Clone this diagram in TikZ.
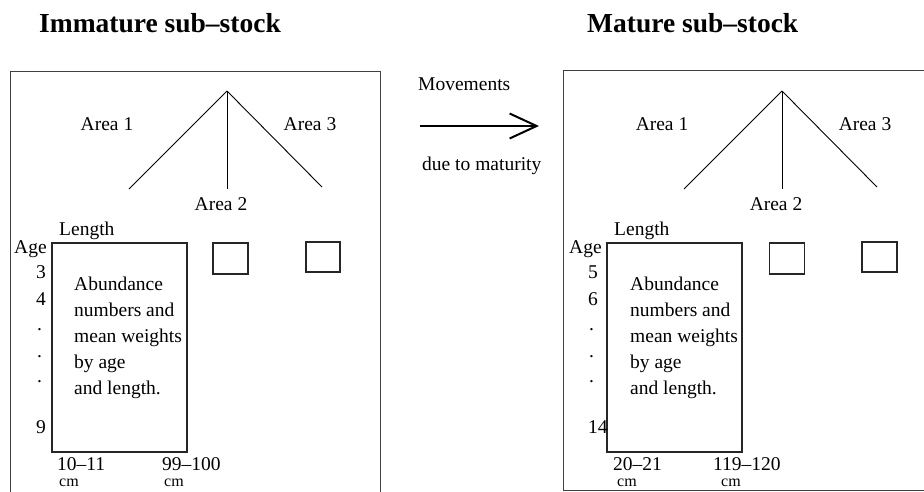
\documentclass[tikz,border=0pt]{standalone}
\usepackage{fontspec}
\setmainfont{Liberation Serif}
\usetikzlibrary{arrows.meta}

\begin{document}
\begin{tikzpicture}[
  x=1pt, y=-1pt,
  font=\fontsize{19.5}{26}\selectfont,
  title/.style={font=\fontsize{27.5}{30}\selectfont\bfseries, anchor=base west, inner sep=0pt},
  lbl/.style={anchor=base west, inner sep=0pt},
  area/.style={anchor=base, inner sep=0pt},
  lenrange/.style={anchor=base west, inner sep=0pt, text depth=0pt},
  unit/.style={anchor=base west, inner sep=0pt, text height=8pt, font=\fontsize{16}{18}\selectfont},
  frame/.style={draw=black!75, line width=1.3pt, anchor=north west, inner sep=0pt},
  cell/.style={draw=black!85, line width=1.4pt, inner sep=0pt},
  branch/.style={line width=0.9pt},
  move/.style={-{Straight Barb[length=27pt, width=25pt]}, line width=2pt}
]
  \clip (0,0) rectangle (924,491);

  % titles
  \node[title] (immtitle) at (39,32) {Immature sub--stock};
  \node[title] (mattitle) at (587,32) {Mature sub--stock};

  % immature sub-stock
  \node[frame, minimum width=370.5, minimum height=440] (immframe) at (9.5,71) {};
  \coordinate (immtop) at (227,91);
  \coordinate (imma) at (129,189);
  \coordinate (immb) at (227,189);
  \coordinate (immc) at (322,187);
  \draw[branch] (immtop) -- (imma);
  \draw[branch] (immtop) -- (immb);
  \draw[branch] (immtop) -- (immc);
  \node[area] (immarea1) at (107,130) {Area 1};
  \node[area] (immarea2) at (221,210) {Area 2};
  \node[area] (immarea3) at (310,130) {Area 3};

  \node[cell, minimum width=135, minimum height=209] (immgrid) at (119.5,347.5) {};
  \node[cell, minimum width=35, minimum height=31] (immsq2) at (230.5,258.5) {};
  \node[cell, minimum width=34, minimum height=30] (immsq3) at (323,257) {};
  \node[lbl] (immlen) at (59,235) {Length};
  \node[lbl] (immage) at (14,253) {Age};
  \node[lbl] (immage1) at (36,278) {3};
  \node[lbl] (immage2) at (36,305) {4};
  \node[lbl] (immdot1) at (37,330) {.};
  \node[lbl] (immdot2) at (37,357) {.};
  \node[lbl] (immdot3) at (37,382) {.};
  \node[lbl] (immagen) at (36,433) {9};
  \node[anchor=north west, inner sep=0pt, align=left] (immtext) at (74,277)
    {Abundance\\numbers and\\mean weights\\by age\\and length.};
  \node[lenrange] (immlo) at (57,470) {10--11};
  \node[unit] (immlocm) at (59,486) {cm};
  \node[lenrange] (immhi) at (162,470) {99--100};
  \node[unit] (immhicm) at (164,486) {cm};

  % movement between the sub-stocks
  \coordinate (movefrom) at (420,126);
  \coordinate (moveto) at (539,126);
  \draw[move] (movefrom) -- (moveto);
  \node[lbl] (movetop) at (418,90) {Movements};
  \node[lbl] (movebot) at (422,170) {due to maturity};

  % mature sub-stock
  \node[frame, minimum width=380, minimum height=419.5] (matframe) at (563,70) {};
  \coordinate (mattop) at (782,91);
  \coordinate (mata) at (684,189);
  \coordinate (matb) at (782,189);
  \coordinate (matc) at (877,187);
  \draw[branch] (mattop) -- (mata);
  \draw[branch] (mattop) -- (matb);
  \draw[branch] (mattop) -- (matc);
  \node[area] (matarea1) at (662,130) {Area 1};
  \node[area] (matarea2) at (776,210) {Area 2};
  \node[area] (matarea3) at (865,130) {Area 3};

  \node[cell, minimum width=135, minimum height=209] (matgrid) at (674.5,347.5) {};
  \node[cell, minimum width=35, minimum height=31] (matsq2) at (787,258.5) {};
  \node[cell, minimum width=35, minimum height=30] (matsq3) at (879.5,257) {};
  \node[lbl] (matlen) at (614,235) {Length};
  \node[lbl] (matage) at (569,253) {Age};
  \node[lbl] (matage1) at (588,278) {5};
  \node[lbl] (matage2) at (588,305) {6};
  \node[lbl] (matdot1) at (589,330) {.};
  \node[lbl] (matdot2) at (589,357) {.};
  \node[lbl] (matdot3) at (589,382) {.};
  \node[lbl] (matagen) at (588,433) {14};
  \node[anchor=north west, inner sep=0pt, align=left] (mattext) at (630,277)
    {Abundance\\numbers and\\mean weights\\by age\\and length.};
  \node[lenrange] (matlo) at (613,470) {20--21};
  \node[unit] (matlocm) at (617,486) {cm};
  \node[lenrange] (mathi) at (713,470) {119--120};
  \node[unit] (mathicm) at (721,486) {cm};
\end{tikzpicture}
\end{document}
